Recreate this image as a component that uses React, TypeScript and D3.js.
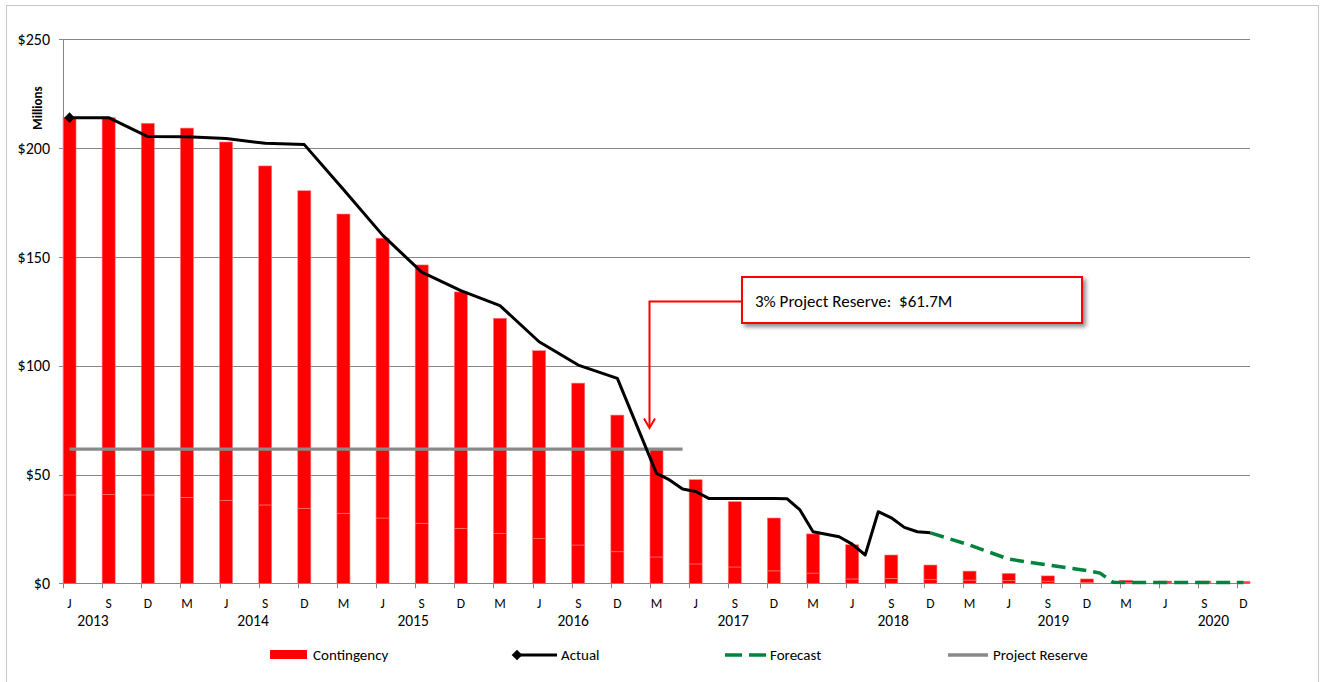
import * as React from 'react';
import * as d3 from 'd3';

// quarter-end month letters shown on the axis (Jun 2013 .. Dec 2020)
const quarterLabels: string[] = [
	'J', 'S', 'D',
	'M', 'J', 'S', 'D',
	'M', 'J', 'S', 'D',
	'M', 'J', 'S', 'D',
	'M', 'J', 'S', 'D',
	'M', 'J', 'S', 'D',
	'M', 'J', 'S', 'D',
	'M', 'J', 'S', 'D',
];

const years: string[] = ['2013', '2014', '2015', '2016', '2017', '2018', '2019', '2020'];

// contingency balance per quarter, $M (total bar height)
const contingency: number[] = [
	214, 214, 211.4,
	209.2, 202.8, 191.8, 180.4,
	169.7, 158.6, 146.3, 133.9,
	121.8, 106.9, 92, 77.3,
	61.3, 47.6, 37.5, 30,
	22.7, 17.7, 13, 8.4,
	5.6, 4.5, 3.4, 2,
	1.4, 1, 1, 0.9,
];

// lower stacked part of each contingency bar, $M
const contingencyLower: number[] = [
	40.6, 40.9, 40.6,
	39.5, 38.1, 36, 34.5,
	32.2, 30, 27.6, 25.3,
	23, 20.5, 17.6, 14.5,
	12.1, 8.9, 7.5, 5.7,
	4.7, 2, 2.3, 1.8,
	1.5, 1.3, 1, 0.5,
	0.3, 0.2, 0.2, 0.2,
];

const actualMonths: string[] = [
	'2013-06', '2013-09', '2013-12',
	'2014-03', '2014-06', '2014-09', '2014-12',
	'2015-03', '2015-06', '2015-09', '2015-12',
	'2016-03', '2016-06', '2016-09', '2016-12',
	'2017-03', '2017-04', '2017-05', '2017-06', '2017-07', '2017-08', '2017-09', '2017-10', '2017-11', '2017-12',
	'2018-01', '2018-02', '2018-03', '2018-04', '2018-05', '2018-06', '2018-07', '2018-08', '2018-09', '2018-10', '2018-11', '2018-12',
];
const actualValues: number[] = [
	214, 214, 205.3,
	205.2, 204.4, 202.2, 201.6,
	181, 160, 143, 134.5,
	127.6, 111, 100.3, 94.2,
	50.5, 47.5, 43.3, 42.2, 39, 39, 39, 39, 39, 39,
	38.9, 33.7, 23.7, 22.5, 21.4, 18, 13, 32.9, 30.1, 25.7, 23.7, 23.2,
];

const forecastMonths: string[] = ['2018-12', '2019-03', '2019-06', '2019-09', '2019-12', '2020-01', '2020-02', '2020-03', '2020-06', '2020-09', '2020-12'];
const forecastValues: number[] = [23.2, 17.6, 11.1, 8.4, 5.8, 4.7, 0.5, 0.4, 0.4, 0.4, 0.4];

const reserveMonths: string[] = ['2013-06', '2017-05'];
const reserveValues: number[] = [61.7, 61.7];

const yTicks: number[] = [0, 50, 100, 150, 200, 250];

const FONT = 'Carlito, Calibri, Lato, sans-serif';
const WIDTH = 1325;
const HEIGHT = 682;

const App: React.FC = () => {
	const ref = React.useRef<SVGSVGElement>(null);

	React.useEffect(() => {
		const svg = d3.select(ref.current);
		svg.selectAll('*').remove();

		const fmt = d3.timeFormat('%Y-%m');
		// one band per month, Jun 2013 .. Dec 2020
		const months = d3.timeMonth.range(new Date(2013, 5, 1), new Date(2021, 0, 1)).map(fmt);
		const x = d3.scaleBand<string>().domain(months).range([63, 1250]).padding(0);
		const y = d3.scaleLinear().domain([0, 250]).range([583.3, 39.3]);
		const cx = (m: string) => (x(m) as number) + x.bandwidth() / 2;
		const quarterMonths = quarterLabels.map((_, i) => months[i * 3]);

		// drop shadow for the callout box
		const defs = svg.append('defs');
		defs.append('filter')
			.attr('id', 'shadow')
			.attr('x', '-10%').attr('y', '-30%').attr('width', '130%').attr('height', '170%')
			.append('feDropShadow')
			.attr('dx', 3).attr('dy', 3).attr('stdDeviation', 2)
			.attr('flood-color', '#000').attr('flood-opacity', 0.45);

		// chart area border
		svg.append('rect')
			.attr('x', 6.5).attr('y', 5.5).attr('width', 1312).attr('height', 700)
			.attr('fill', '#fff').attr('stroke', '#c8c8c8');

		// gridlines and y tick marks
		svg.append('g')
			.selectAll('line')
			.data(yTicks)
			.enter()
			.append('line')
			.attr('x1', 59).attr('x2', 1250)
			.attr('y1', (d) => Math.round(y(d)) + 0.5).attr('y2', (d) => Math.round(y(d)) + 0.5)
			.attr('stroke', '#868686').attr('stroke-width', 1);

		svg.append('g')
			.selectAll('text')
			.data(yTicks)
			.enter()
			.append('text')
			.attr('x', 50).attr('y', (d) => y(d)).attr('dy', '0.36em')
			.attr('text-anchor', 'end')
			.attr('font-family', FONT).attr('font-size', 16).attr('fill', '#000')
			.text((d) => `$${d}`);

		svg.append('text')
			.attr('transform', 'translate(41.5,108) rotate(-90)')
			.attr('text-anchor', 'middle')
			.attr('font-family', FONT).attr('font-size', 13).attr('font-weight', 'bold')
			.text('Millions');

		// contingency bars, two stacked parts in the same red
		const bars = svg.append('g');
		contingency.forEach((total, i) => {
			const m = quarterMonths[i];
			const lower = Math.min(contingencyLower[i], total);
			const parts = [
				[0, lower],
				[lower, total],
			];
			parts.forEach(([a, b]) => {
				if (b - a <= 0) return;
				bars.append('rect')
					.attr('x', x(m) as number)
					.attr('width', x.bandwidth())
					.attr('y', y(b))
					.attr('height', y(a) - y(b))
					.attr('fill', '#ff0000')
					.attr('stroke', '#ff7a7a').attr('stroke-width', 0.6);
			});
		});

		// y axis line
		svg.append('line')
			.attr('x1', 63.5).attr('x2', 63.5).attr('y1', y(250)).attr('y2', y(0))
			.attr('stroke', '#868686');

		// x axis line, ticks, month letters, years
		svg.append('line')
			.attr('x1', 63).attr('x2', 1250).attr('y1', Math.round(y(0)) + 0.5).attr('y2', Math.round(y(0)) + 0.5)
			.attr('stroke', '#868686');

		svg.append('g')
			.selectAll('line')
			.data(quarterMonths)
			.enter()
			.append('line')
			.attr('x1', (m) => Math.round(x(m) as number) + 0.5).attr('x2', (m) => Math.round(x(m) as number) + 0.5)
			.attr('y1', y(0)).attr('y2', y(0) + 5)
			.attr('stroke', '#868686');

		svg.append('g')
			.selectAll('text')
			.data(quarterMonths)
			.enter()
			.append('text')
			.attr('x', (m) => cx(m)).attr('y', 608)
			.attr('text-anchor', 'middle')
			.attr('font-family', FONT).attr('font-size', 13.5)
			.text((_, i) => quarterLabels[i]);

		// year labels sit a little right of each year's first axis label
		const monthW = x.bandwidth();
		svg.append('g')
			.selectAll('text')
			.data(years)
			.enter()
			.append('text')
			.attr('x', (_, i) => 63 + (2.3 + i * 12.27) * monthW).attr('y', 626)
			.attr('text-anchor', 'middle')
			.attr('font-family', FONT).attr('font-size', 15.5)
			.text((d) => d);

		const line = d3.line<[string, number]>()
			.x((d) => cx(d[0]))
			.y((d) => y(d[1]));

		// project reserve
		svg.append('path')
			.attr('d', line(reserveMonths.map((m, i) => [m, reserveValues[i]])) as string)
			.attr('fill', 'none').attr('stroke', '#8a8a8a').attr('stroke-width', 3.3);

		// forecast
		svg.append('path')
			.attr('d', line(forecastMonths.map((m, i) => [m, forecastValues[i]])) as string)
			.attr('fill', 'none').attr('stroke', '#00843d').attr('stroke-width', 3.5)
			.attr('stroke-dasharray', '14,7');

		// actual
		svg.append('path')
			.attr('d', line(actualMonths.map((m, i) => [m, actualValues[i]])) as string)
			.attr('fill', 'none').attr('stroke', '#000').attr('stroke-width', 3)
			.attr('stroke-linejoin', 'round');

		const diamond = d3.symbol().type(d3.symbolDiamond2).size(72);
		svg.append('path')
			.attr('d', diamond() as string)
			.attr('transform', `translate(${cx(actualMonths[0])},${y(actualValues[0])})`)
			.attr('fill', '#000');

		// callout for the project reserve
		const callout = svg.append('g');
		callout.append('path')
			.attr('d', 'M742,301.5 H649.5 V427')
			.attr('fill', 'none').attr('stroke', '#ff0000').attr('stroke-width', 2);
		callout.append('path')
			.attr('d', 'M644,418.5 L649.5,428 L655,418.5')
			.attr('fill', 'none').attr('stroke', '#ff0000').attr('stroke-width', 2);
		callout.append('rect')
			.attr('x', 742).attr('y', 277).attr('width', 340).attr('height', 46)
			.attr('fill', '#fff').attr('stroke', '#ff0000').attr('stroke-width', 2)
			.attr('filter', 'url(#shadow)');
		callout.append('text')
			.attr('x', 755).attr('y', 307)
			.attr('font-family', FONT).attr('font-size', 17)
			.style('white-space', 'pre')
			.text('3% Project Reserve:  $61.7M');

		// legend
		const legend = svg.append('g').attr('font-family', FONT).attr('font-size', 15);
		legend.append('rect').attr('x', 270).attr('y', 650).attr('width', 37).attr('height', 9).attr('fill', '#ff0000');
		legend.append('text').attr('x', 313).attr('y', 660).text('Contingency');

		legend.append('line').attr('x1', 516).attr('x2', 557).attr('y1', 655).attr('y2', 655)
			.attr('stroke', '#000').attr('stroke-width', 3);
		legend.append('path').attr('d', diamond() as string).attr('transform', 'translate(517,655)').attr('fill', '#000');
		legend.append('text').attr('x', 561).attr('y', 660).text('Actual');

		legend.append('line').attr('x1', 725).attr('x2', 766).attr('y1', 655).attr('y2', 655)
			.attr('stroke', '#00843d').attr('stroke-width', 3.5).attr('stroke-dasharray', '17,7');
		legend.append('text').attr('x', 770).attr('y', 660).text('Forecast');

		legend.append('line').attr('x1', 948).attr('x2', 988).attr('y1', 655).attr('y2', 655)
			.attr('stroke', '#8a8a8a').attr('stroke-width', 3.3);
		legend.append('text').attr('x', 993).attr('y', 660).text('Project Reserve');
	}, []);

	return (
		<svg
			ref={ref}
			width={WIDTH}
			height={HEIGHT}
			style={{ position: 'absolute', left: 0, top: 0, background: '#fff' }}
		/>
	);
};

export default App;
